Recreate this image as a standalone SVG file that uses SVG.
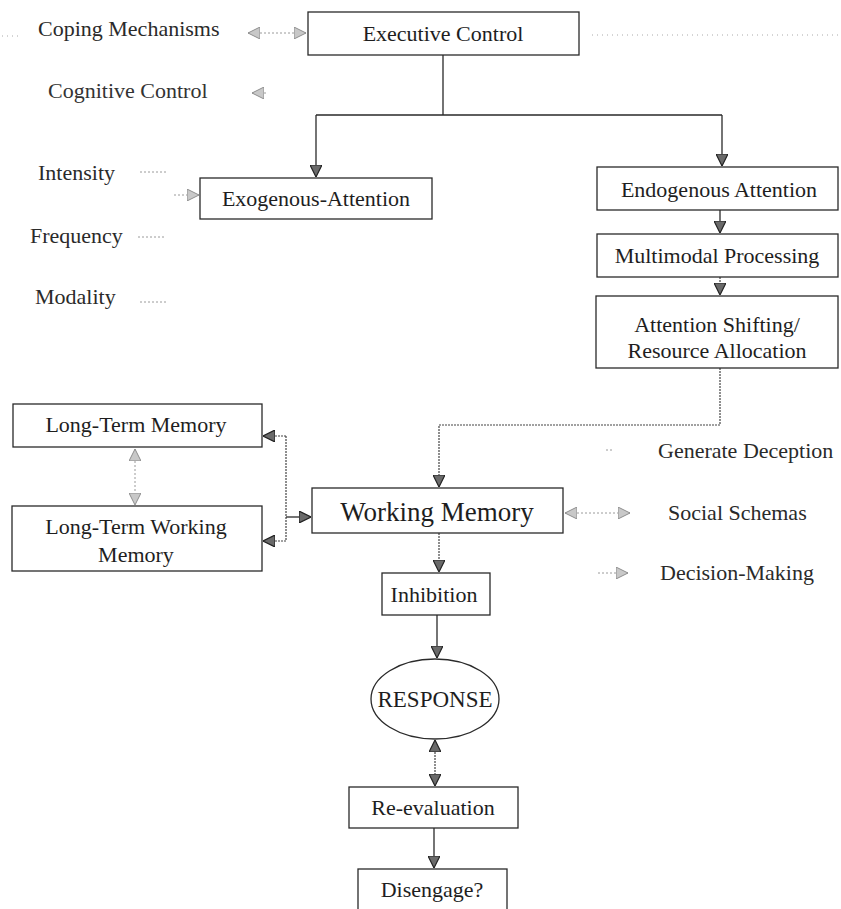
<svg xmlns="http://www.w3.org/2000/svg" width="841" height="909" viewBox="0 0 841 909">
  <defs>
    <style>
      .box { fill: #ffffff; stroke: #2a2a2a; stroke-width: 1.3; }
      .mid { text-anchor: middle; }
      .wire { fill: none; stroke: #2a2a2a; stroke-width: 1.3; }
      .dot { fill: none; stroke: #444; stroke-width: 1.2; stroke-dasharray: 2 1; }
      .faint { fill: none; stroke: #9a9a9a; stroke-width: 1; stroke-dasharray: 2 2; }
      .speck { fill: none; stroke: #aaa; stroke-width: 1; stroke-dasharray: 1 4; }
    </style>
    <marker id="head" viewBox="0 0 10 10" refX="10" refY="5" markerUnits="userSpaceOnUse" markerWidth="12" markerHeight="12" orient="auto-start-reverse">
      <path d="M0,0 L10,5 L0,10 z" fill="#6a6a6a" stroke="#222" stroke-width="1"/>
    </marker>
    <marker id="soft" viewBox="0 0 10 10" refX="10" refY="5" markerUnits="userSpaceOnUse" markerWidth="12" markerHeight="12" orient="auto-start-reverse">
      <path d="M0,0 L10,5 L0,10 z" fill="#c8c8c8" stroke="#8a8a8a" stroke-width="0.8"/>
    </marker>
  </defs>

  <rect width="841" height="909" fill="#ffffff"/>

  <!-- stray specks along the top row -->
  <path class="speck" d="M2,36 H22 M592,35 H838"/>

  <!-- connectors -->
  <g id="connectors">
    <!-- Executive Control splits into the two attention branches -->
    <path class="wire" d="M443,55 V115 M316,115 H722"/>
    <path class="wire" d="M316,115 V177" marker-end="url(#head)"/>
    <path class="wire" d="M722,115 V166" marker-end="url(#head)"/>
    <!-- endogenous chain -->
    <path class="wire" d="M720,210 V233" marker-end="url(#head)"/>
    <path class="dot" d="M720,277 V295" marker-end="url(#head)"/>
    <!-- resource allocation down to working memory -->
    <path class="dot" d="M720,368 V425 H439 V487" marker-end="url(#head)"/>
    <!-- side inputs -->
    <path class="faint" d="M248,33 H306" marker-start="url(#soft)" marker-end="url(#soft)"/>
    <path class="faint" d="M252,93 H268" marker-start="url(#soft)"/>
    <path class="faint" d="M140,172 H166 M138,237 H165 M140,302 H166"/>
    <path class="faint" d="M174,195 H199" marker-end="url(#soft)"/>
    <path class="faint" d="M606,450 H612"/>
    <path class="faint" d="M565,513 H630" marker-start="url(#soft)" marker-end="url(#soft)"/>
    <path class="faint" d="M598,573 H628" marker-end="url(#soft)"/>
    <!-- long-term memory links -->
    <path class="faint" d="M135,449 V505" marker-start="url(#soft)" marker-end="url(#soft)"/>
    <path class="dot" d="M286,436 V541"/>
    <path class="dot" d="M286,436 H263" marker-end="url(#head)"/>
    <path class="dot" d="M286,541 H263" marker-end="url(#head)"/>
    <path class="wire" d="M286,517 H311" marker-end="url(#head)"/>
    <!-- response path -->
    <path class="dot" d="M439,533 V572" marker-end="url(#head)"/>
    <path class="wire" d="M437,615 V658" marker-end="url(#head)"/>
    <path class="dot" d="M435,740 V786" marker-start="url(#head)" marker-end="url(#head)"/>
    <path class="wire" d="M434,828 V868" marker-end="url(#head)"/>
  </g>

  <g font-family="Liberation Serif" font-size="22" fill="#1e1e1e">
    <!-- side labels -->
    <g fill="#2a2a2a">
      <text x="38" y="36">Coping Mechanisms</text>
      <text x="48" y="98" fill="#333">Cognitive Control</text>
      <text x="38" y="180">Intensity</text>
      <text x="30" y="243">Frequency</text>
      <text x="35" y="304">Modality</text>
      <text x="658" y="458">Generate Deception</text>
      <text x="668" y="520">Social Schemas</text>
      <text x="660" y="580">Decision-Making</text>
    </g>

    <!-- nodes -->
    <g id="executive-control">
      <rect class="box" x="308" y="12" width="271" height="43"/>
      <text class="mid" x="443" y="41">Executive Control</text>
    </g>
    <g id="exogenous-attention">
      <rect class="box" x="200" y="178" width="232" height="41"/>
      <text class="mid" x="316" y="206">Exogenous-Attention</text>
    </g>
    <g id="endogenous-attention">
      <rect class="box" x="597" y="167" width="241" height="43"/>
      <text class="mid" x="719" y="197">Endogenous Attention</text>
    </g>
    <g id="multimodal-processing">
      <rect class="box" x="597" y="234" width="241" height="43"/>
      <text class="mid" x="717" y="263">Multimodal Processing</text>
    </g>
    <g id="attention-shifting">
      <rect class="box" x="596" y="296" width="242" height="72"/>
      <text class="mid" x="717" y="332">Attention Shifting/</text>
      <text class="mid" x="717" y="358">Resource Allocation</text>
    </g>
    <g id="long-term-memory">
      <rect class="box" x="13" y="404" width="249" height="43"/>
      <text class="mid" x="136" y="432">Long-Term Memory</text>
    </g>
    <g id="long-term-working-memory">
      <rect class="box" x="12" y="506" width="250" height="65"/>
      <text class="mid" x="136" y="534">Long-Term Working</text>
      <text class="mid" x="136" y="562">Memory</text>
    </g>
    <g id="working-memory">
      <rect class="box" x="312" y="488" width="251" height="45"/>
      <text class="mid" x="437" y="521" font-size="27">Working Memory</text>
    </g>
    <g id="inhibition">
      <rect class="box" x="382" y="573" width="108" height="42"/>
      <text class="mid" x="434" y="602">Inhibition</text>
    </g>
    <g id="response">
      <ellipse class="box" cx="435" cy="699" rx="64" ry="40"/>
      <text class="mid" x="435" y="707" font-size="23">RESPONSE</text>
    </g>
    <g id="re-evaluation">
      <rect class="box" x="349" y="787" width="169" height="41"/>
      <text class="mid" x="433" y="815">Re-evaluation</text>
    </g>
    <g id="disengage">
      <rect class="box" x="358" y="869" width="149" height="48"/>
      <text class="mid" x="432" y="897">Disengage?</text>
    </g>
  </g>
</svg>
